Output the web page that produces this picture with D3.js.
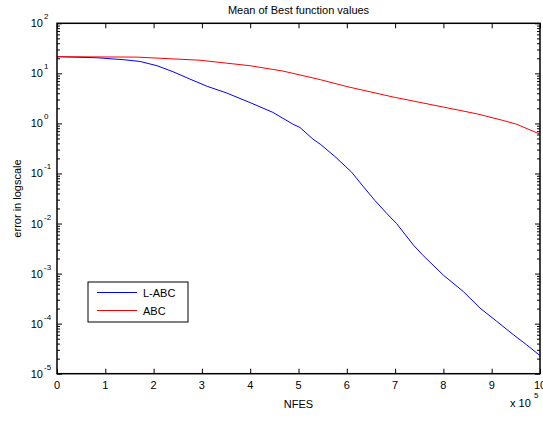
<!DOCTYPE html>
<html>
<head>
<meta charset="utf-8">
<script src="https://cdn.jsdelivr.net/npm/d3@7"></script>
<style>
  body { margin: 0; background: #fff; }
  text { font-family: "Liberation Sans", Arial, sans-serif; fill: #000; }
</style>
</head>
<body>
<div id="chart1"></div>
<script>
var w = 543;
var h = 422;

// NFES in units of 1e5
var nfesLABC = [0, 0.83, 1.39, 1.72, 2.07, 2.40, 2.75, 3.11, 3.50, 4.00, 4.47, 4.89, 5.03, 5.30, 5.45, 5.75, 6.10, 6.34, 6.58, 6.83, 7.03, 7.38, 7.58, 8.00, 8.41, 8.76, 9.10, 9.45, 9.72, 10];
var errLABC = [21.5, 20.5, 18.7, 17.3, 14.2, 10.8, 7.7, 5.5, 4.1, 2.6, 1.66, 0.96, 0.83, 0.484, 0.385, 0.22, 0.106, 0.055, 0.029, 0.0158, 0.010, 0.0037, 0.0023, 9.3e-4, 4.4e-4, 2.04e-4, 1.12e-4, 6.0e-5, 3.8e-5, 2.3e-5];

var nfesABC = [0, 1.66, 2.96, 4.00, 4.68, 5.45, 6.00, 6.96, 7.99, 8.70, 9.23, 9.52, 10];
var errABC = [21.5, 21.1, 18.3, 14.2, 11.1, 7.5, 5.45, 3.37, 2.13, 1.55, 1.15, 0.96, 0.61];

var xTicks = [0, 1, 2, 3, 4, 5, 6, 7, 8, 9, 10];
var yExps = [2, 1, 0, -1, -2, -3, -4, -5];
var seriesNames = ["L-ABC", "ABC"];
var seriesColors = ["#0000ff", "#ff0000"];

// plot box (top/left would clash with window globals)
var boxL = 57, boxR = 540, boxT = 23.3, boxB = 373.7;

var xScale = d3.scaleLinear()
               .domain([0, 10])
               .range([boxL, boxR]);
var yScale = d3.scaleLog()
               .domain([1e-5, 1e2])
               .range([boxB, boxT]);

function main() {
  var svg1 = d3.select("#chart1")
               .append("svg")
               .attr("width", w)
               .attr("height", h);

  // minor log ticks
  var minors = [];
  for (var e = -5; e < 2; e++) {
    for (var m = 2; m <= 9; m++) minors.push(m * Math.pow(10, e));
  }
  var majors = yExps.map(d => Math.pow(10, d));

  function tickGroup(axis, tx, ty) {
    var g = svg1.append("g")
                .attr("transform", "translate(" + tx + "," + ty + ")")
                .call(axis);
    g.select(".domain").remove();
    g.selectAll("line").attr("stroke", "#000").attr("stroke-width", 1);
    g.selectAll("text").remove();
  }

  tickGroup(d3.axisLeft(yScale).tickValues(minors).tickSize(-3), boxL, 0);
  tickGroup(d3.axisLeft(yScale).tickValues(majors).tickSize(-5), boxL, 0);
  tickGroup(d3.axisRight(yScale).tickValues(minors).tickSize(-3), boxR, 0);
  tickGroup(d3.axisRight(yScale).tickValues(majors).tickSize(-5), boxR, 0);
  tickGroup(d3.axisBottom(xScale).tickValues(xTicks).tickSize(-5), 0, boxB);
  tickGroup(d3.axisTop(xScale).tickValues(xTicks).tickSize(-5), 0, boxT);

  // lines
  var line = d3.line()
               .x(d => xScale(d[0]))
               .y(d => yScale(d[1]));
  var series = [
    d3.zip(nfesLABC, errLABC),
    d3.zip(nfesABC, errABC)
  ];
  svg1.selectAll(".series")
      .data(series)
      .enter()
      .append("path")
      .attr("class", "series")
      .attr("d", line)
      .attr("fill", "none")
      .attr("stroke", (d, i) => seriesColors[i])
      .attr("stroke-width", 1);

  // box
  svg1.append("rect")
      .attr("x", boxL)
      .attr("y", boxT)
      .attr("width", boxR - boxL)
      .attr("height", boxB - boxT)
      .attr("fill", "none")
      .attr("stroke", "#000")
      .attr("stroke-width", 1.5);

  // y tick labels
  svg1.selectAll(".ylab")
      .data(yExps)
      .enter()
      .append("text")
      .attr("class", "ylab")
      .attr("x", 43)
      .attr("y", d => yScale(Math.pow(10, d)) + 4)
      .attr("text-anchor", "end")
      .attr("font-size", "11px")
      .text("10");
  svg1.selectAll(".yexp")
      .data(yExps)
      .enter()
      .append("text")
      .attr("class", "yexp")
      .attr("x", 44)
      .attr("y", d => yScale(Math.pow(10, d)) - 4)
      .attr("font-size", "8px")
      .text(d => d);

  // x tick labels
  svg1.selectAll(".xlab")
      .data(xTicks)
      .enter()
      .append("text")
      .attr("class", "xlab")
      .attr("x", d => xScale(d))
      .attr("y", 389)
      .attr("text-anchor", "middle")
      .attr("font-size", "11px")
      .text(d => d);

  // titles
  svg1.append("text")
      .attr("x", (boxL + boxR) / 2)
      .attr("y", 14)
      .attr("text-anchor", "middle")
      .attr("font-size", "11px")
      .text("Mean of Best function values");
  svg1.append("text")
      .attr("x", (boxL + boxR) / 2)
      .attr("y", 408)
      .attr("text-anchor", "middle")
      .attr("font-size", "11px")
      .text("NFES");
  svg1.append("text")
      .attr("transform", "translate(21," + (boxT + boxB) / 2 + ") rotate(-90)")
      .attr("text-anchor", "middle")
      .attr("font-size", "11px")
      .text("error in logscale");
  svg1.append("text")
      .attr("x", 510)
      .attr("y", 407)
      .attr("font-size", "11px")
      .text("x 10");
  svg1.append("text")
      .attr("x", 534)
      .attr("y", 398)
      .attr("font-size", "8px")
      .text("5");

  // legend
  var lg = svg1.append("g");
  lg.append("rect")
    .attr("x", 88)
    .attr("y", 282)
    .attr("width", 100)
    .attr("height", 40)
    .attr("fill", "#fff")
    .attr("stroke", "#000")
    .attr("stroke-width", 1);
  seriesNames.forEach(function(name, i) {
    var yy = 292.5 + i * 18;
    lg.append("line")
      .attr("x1", 97).attr("x2", 137)
      .attr("y1", yy).attr("y2", yy)
      .attr("stroke", seriesColors[i])
      .attr("stroke-width", 1);
    lg.append("text")
      .attr("x", 143)
      .attr("y", yy + 4)
      .attr("font-size", "11px")
      .text(name);
  });
}

window.onload = function() {
  main();
};
</script>
</body>
</html>
